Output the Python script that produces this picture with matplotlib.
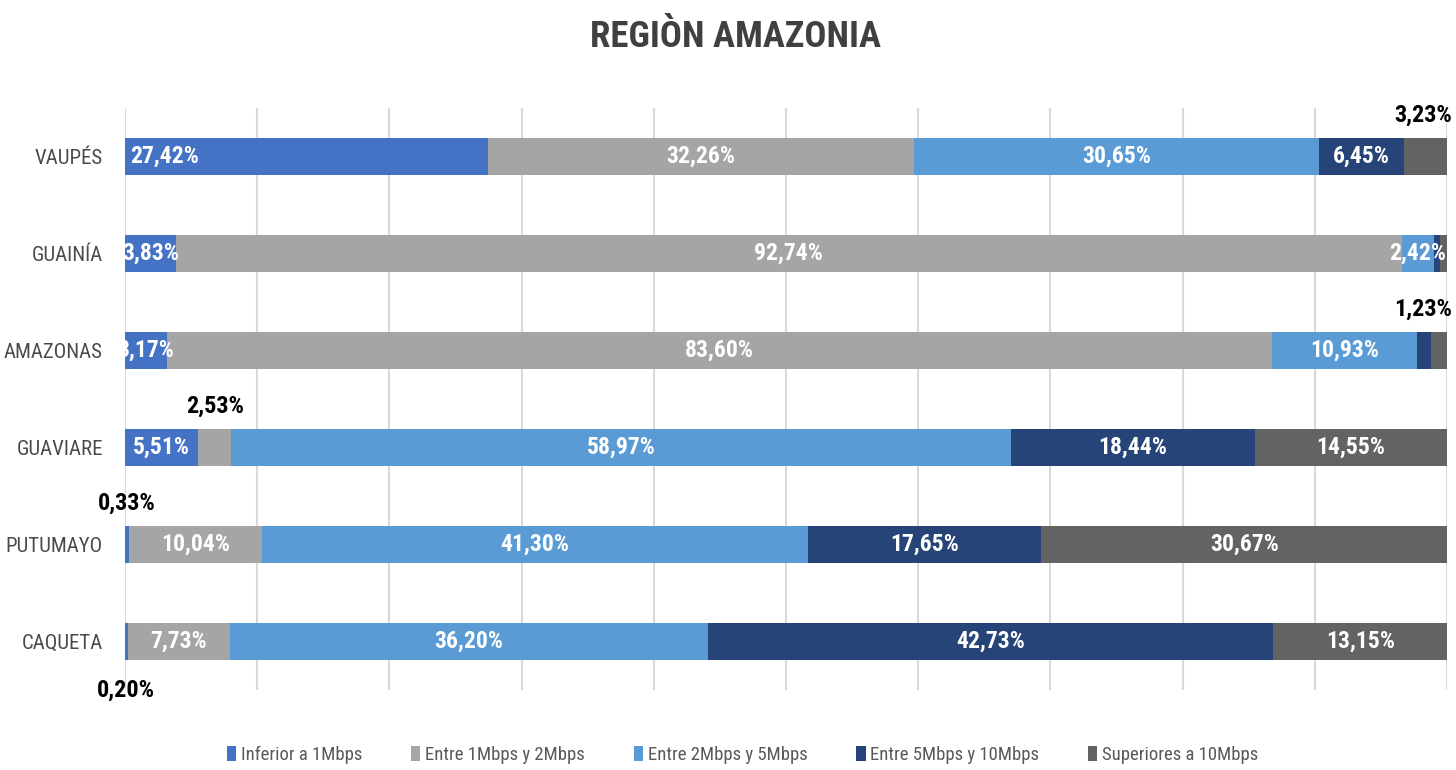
import matplotlib
matplotlib.use('Agg')
import matplotlib.pyplot as plt
import numpy as np

plt.rcParams['font.family'] = ['Roboto Condensed', 'DejaVu Sans']

regions = ['VAUPÉS', 'GUAINÍA', 'AMAZONAS', 'GUAVIARE', 'PUTUMAYO', 'CAQUETA']
series = ['Inferior a 1Mbps', 'Entre 1Mbps y 2Mbps', 'Entre 2Mbps y 5Mbps',
          'Entre 5Mbps y 10Mbps', 'Superiores a 10Mbps']
colors = ['#4472C4', '#A5A5A5', '#5B9BD5', '#264478', '#636363']

inferior_1 = [27.42, 3.83, 3.17, 5.51, 0.33, 0.20]
entre_1_2 = [32.26, 92.74, 83.60, 2.53, 10.04, 7.73]
entre_2_5 = [30.65, 2.42, 10.93, 58.97, 41.30, 36.20]
entre_5_10 = [6.45, 0.50, 1.07, 18.44, 17.65, 42.73]
superior_10 = [3.23, 0.51, 1.23, 14.55, 30.67, 13.15]
values = [inferior_1, entre_1_2, entre_2_5, entre_5_10, superior_10]

# where each value label goes: inside bar, left of bar, above, below, or none
label_pos = [
    ['left', 'in', 'in', 'in', 'above', 'below'],
    ['in', 'in', 'in', 'above', 'in', 'in'],
    ['in', 'in', 'in', 'in', 'in', 'in'],
    ['in', None, None, 'in', 'in', 'in'],
    ['above', None, 'above', 'in', 'in', 'in'],
]

def fmt(v):
    return f'{v:.2f}%'.replace('.', ',')

fig = plt.figure(figsize=(14.56, 7.7), dpi=100)
ax = fig.add_axes([0.0859, 0.1039, 0.9079, 0.7558])

y = np.arange(len(regions))
left = np.zeros(len(regions))
for s, (name, vals, col) in enumerate(zip(series, values, colors)):
    vals = np.array(vals)
    ax.barh(y, vals, left=left, height=0.39, color=col, label=name, zorder=3)
    for i, v in enumerate(vals):
        mode = label_pos[s][i]
        if mode is None:
            continue
        cx = left[i] + v / 2
        if mode == 'in':
            ax.text(cx, y[i], fmt(v), ha='center', va='center', color='white',
                    fontsize=17, fontweight='bold', zorder=4)
        elif mode == 'left':
            ax.text(left[i] + 0.4, y[i], fmt(v), ha='left', va='center',
                    color='white', fontsize=17, fontweight='bold', zorder=4)
        elif mode == 'above':
            ax.text(min(cx, 98.2), y[i] - 0.31, fmt(v), ha='center', va='bottom',
                    color='black', fontsize=17.5, fontweight='bold', zorder=4)
        else:
            ax.text(cx, y[i] + 0.38, fmt(v), ha='center', va='top',
                    color='black', fontsize=17.5, fontweight='bold', zorder=4)
    left += vals

ax.set_xlim(0, 100)
ax.set_ylim(5.5, -0.5)
ax.set_xticks(np.arange(0, 101, 10))
ax.set_xticklabels([])
ax.tick_params(axis='x', length=0)
ax.tick_params(axis='y', length=0, pad=16)
ax.set_yticks(y)
ax.set_yticklabels(regions, fontsize=15, color='#4a4a4a')
ax.grid(axis='x', color='#D9D9D9', linewidth=1.5, zorder=0)
for sp in ax.spines.values():
    sp.set_visible(False)

fig.text(0.505, 0.952, 'REGIÒN AMAZONIA', ha='center', va='center',
         fontsize=26.5, fontweight='bold', color='#404040')

handles, labels = ax.get_legend_handles_labels()
fig.legend(handles, labels, loc='lower center', ncol=5, frameon=False,
           bbox_to_anchor=(0.51, -0.014), fontsize=13.5, handlelength=0.5,
           handleheight=0.9, handletextpad=0.25, columnspacing=2.6,
           labelcolor='#595959')

fig.savefig('out.png', dpi=100)
